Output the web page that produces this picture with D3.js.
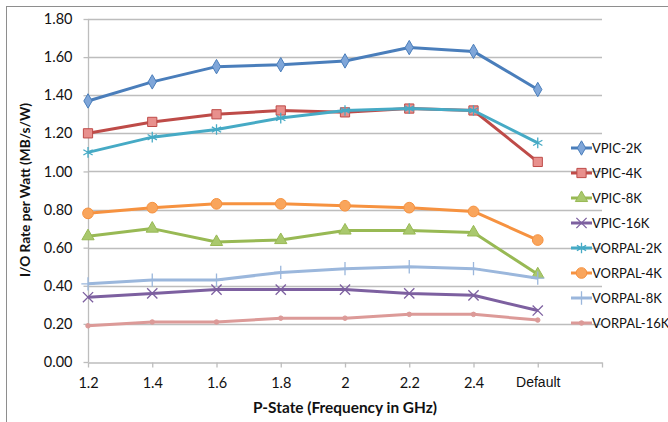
<!DOCTYPE html>
<html>
<head>
<meta charset="utf-8">
<script src="https://cdn.jsdelivr.net/npm/d3@7"></script>
<style>
  body { margin: 0; background: #fff; }
  svg { display: block; font-family: Lato, "Open Sans", sans-serif; }
</style>
</head>
<body>
<div id="chart"></div>
<script>
// category labels on the x axis
var categories = ["1.2", "1.4", "1.6", "1.8", "2", "2.2", "2.4", "Default"];
var yTicks = [0, 0.2, 0.4, 0.6, 0.8, 1.0, 1.2, 1.4, 1.6, 1.8];

var seriesNames = ["VPIC-2K", "VPIC-4K", "VPIC-8K", "VPIC-16K",
	"VORPAL-2K", "VORPAL-4K", "VORPAL-8K", "VORPAL-16K"];

var vpic2k = [1.37, 1.47, 1.55, 1.56, 1.58, 1.65, 1.63, 1.43];
var vpic4k = [1.20, 1.26, 1.30, 1.32, 1.31, 1.33, 1.32, 1.05];
var vpic8k = [0.66, 0.70, 0.63, 0.64, 0.69, 0.69, 0.68, 0.46];
var vpic16k = [0.34, 0.36, 0.38, 0.38, 0.38, 0.36, 0.35, 0.27];
var vorpal2k = [1.10, 1.18, 1.22, 1.28, 1.32, 1.33, 1.32, 1.15];
var vorpal4k = [0.78, 0.81, 0.83, 0.83, 0.82, 0.81, 0.79, 0.64];
var vorpal8k = [0.41, 0.43, 0.43, 0.47, 0.49, 0.50, 0.49, 0.44];
var vorpal16k = [0.19, 0.21, 0.21, 0.23, 0.23, 0.25, 0.25, 0.22];

var seriesValues = [vpic2k, vpic4k, vpic8k, vpic16k, vorpal2k, vorpal4k, vorpal8k, vorpal16k];

// look of each series (stroke, marker fill, symbol, size, stroked-only)
var styles = [
	{ line: "#4a7ebb", fill: "#7fa6d9", sym: d3.symbolDiamond, size: 60, open: false },
	{ line: "#be4b48", fill: "#e8908d", sym: d3.symbolSquare, size: 85, open: false },
	{ line: "#98b954", fill: "#a9c86d", sym: d3.symbolTriangle, size: 65, open: false },
	{ line: "#7d60a0", fill: "none", sym: d3.symbolX, size: 70, open: true },
	{ line: "#46aac5", fill: "none", sym: d3.symbolAsterisk, size: 80, open: true },
	{ line: "#f69240", fill: "#f9a55c", sym: d3.symbolCircle, size: 90, open: false },
	{ line: "#9bb7dc", fill: "none", sym: d3.symbolPlus, size: 60, open: true },
	{ line: "#dc9a98", fill: "#dc9a98", sym: d3.symbolCircle, size: 16, open: false }
];

var width = 668, height = 422;

var svg = d3.select("#chart").append("svg")
	.attr("width", width)
	.attr("height", height);

// chart frame
svg.append("rect")
	.attr("x", 6.5).attr("y", 6.5)
	.attr("width", 700).attr("height", 440)
	.attr("fill", "none")
	.attr("stroke", "#8e8e8e");

var x = d3.scaleLinear().domain([0, 8]).range([88, 602]);
var y = d3.scaleLinear().domain([0, 1.8]).range([362, 19]);

// gridlines
svg.append("g")
	.selectAll("line")
	.data(yTicks.slice(1))
	.enter().append("line")
	.attr("x1", x(0)).attr("x2", x(8))
	.attr("y1", function(d) { return Math.round(y(d)) + 0.5; })
	.attr("y2", function(d) { return Math.round(y(d)) + 0.5; })
	.attr("stroke", "#bdbdbd")
	.attr("stroke-width", 1.3);

// y axis
var yAxis = svg.append("g")
	.attr("transform", "translate(" + (x(0) + 0.5) + ",0)")
	.call(d3.axisLeft(y).tickValues(yTicks).tickFormat(d3.format(".2f")).tickSize(5).tickPadding(11));
yAxis.selectAll("path, line").attr("stroke", "#bdbdbd").attr("stroke-width", 1.3);
yAxis.select(".domain").attr("d", "M0," + y(1.8) + "V" + y(0));
yAxis.selectAll("text").attr("font-size", 14.5).attr("fill", "#111").attr("font-family", "Lato, sans-serif");

// x axis
var xAxis = svg.append("g")
	.attr("transform", "translate(0," + (Math.round(y(0)) + 0.5) + ")")
	.call(d3.axisBottom(x).tickValues(d3.range(9))
		.tickFormat(function(i) { return categories[i] || ""; })
		.tickSize(5).tickSizeOuter(0).tickPadding(10));
xAxis.selectAll("path, line").attr("stroke", "#bdbdbd").attr("stroke-width", 1.3);
xAxis.selectAll("text").attr("font-size", 14.5).attr("fill", "#111").attr("font-family", "Lato, sans-serif");
xAxis.selectAll("text").filter(function(i) { return i === 7; })
	.attr("font-size", 14)
	.attr("font-family", "Liberation Sans, Arial, sans-serif");

// axis titles
svg.append("text")
	.attr("x", 345).attr("y", 413)
	.attr("text-anchor", "middle")
	.attr("font-size", 15).attr("font-weight", "bold")
	.attr("fill", "#111")
	.attr("textLength", 184).attr("lengthAdjust", "spacingAndGlyphs")
	.text("P-State (Frequency in GHz)");

svg.append("text")
	.attr("transform", "translate(30,190) rotate(-90)")
	.attr("text-anchor", "middle")
	.attr("font-size", 14).attr("font-weight", "bold")
	.attr("fill", "#111")
	.attr("textLength", 174).attr("lengthAdjust", "spacingAndGlyphs")
	.text("I/O Rate per Watt (MB/s/W)");

var line = d3.line()
	.x(function(d, i) { return x(i); })
	.y(function(d) { return y(d); });

function marker(sel, st) {
	sel.attr("d", d3.symbol().type(st.sym).size(st.size))
		.attr("fill", st.open ? "none" : st.fill)
		.attr("stroke", st.line)
		.attr("stroke-width", st.open ? 1.3 : 1);
}

seriesValues.forEach(function(vals, k) {
	var st = styles[k];
	var g = svg.append("g");
	g.append("path")
		.datum(vals)
		.attr("d", line)
		.attr("fill", "none")
		.attr("stroke", st.line)
		.attr("stroke-width", 3)
		.attr("stroke-linejoin", "round");
	g.selectAll("path.m")
		.data(vals)
		.enter().append("path")
		.attr("class", "m")
		.attr("transform", function(d, i) { return "translate(" + x(i) + "," + y(d) + ")"; })
		.call(marker, st);
});

// legend
var legend = svg.append("g");
seriesNames.forEach(function(name, k) {
	var st = styles[k];
	var ly = 148 + k * 25;
	legend.append("line")
		.attr("x1", 571).attr("x2", 592)
		.attr("y1", ly).attr("y2", ly)
		.attr("stroke", st.line).attr("stroke-width", 3);
	legend.append("path")
		.attr("transform", "translate(581.5," + ly + ")")
		.call(marker, st);
	legend.append("text")
		.attr("x", 592).attr("y", ly + 5)
		.attr("font-size", 13).attr("fill", "#111")
		.text(name);
});
</script>
</body>
</html>
